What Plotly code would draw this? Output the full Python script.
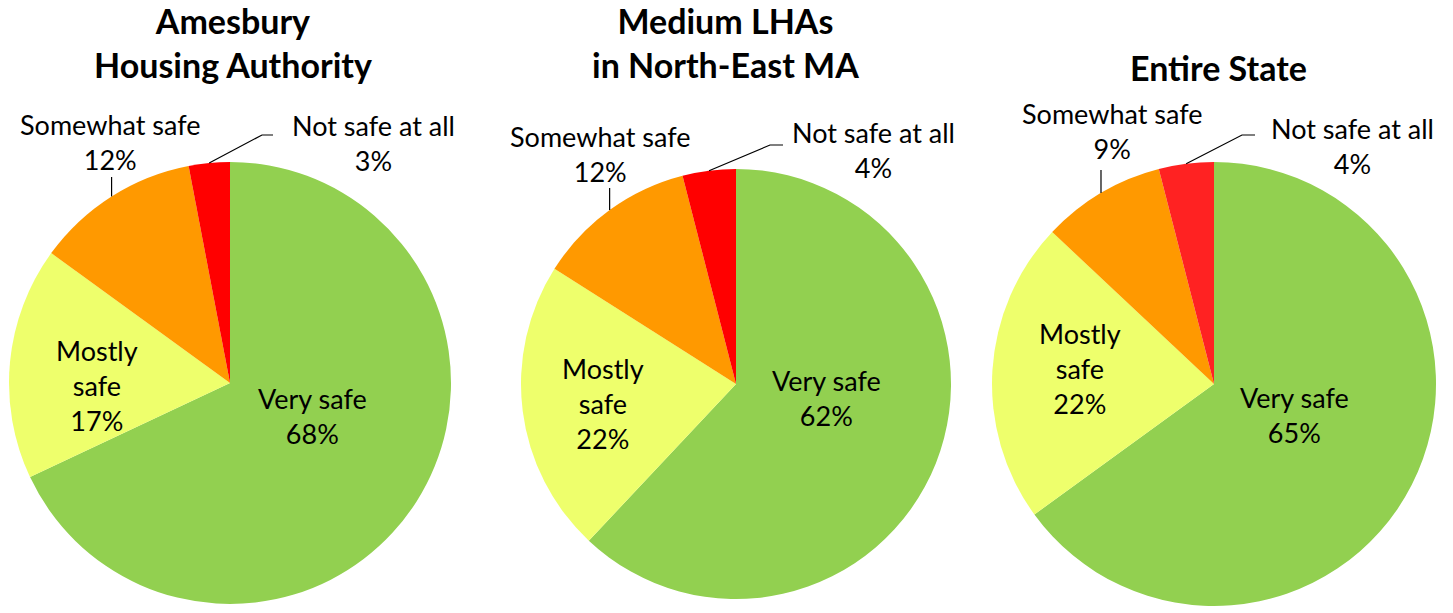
import math
import plotly.graph_objects as go

# ---------------- data ----------------
categories = ["Very safe", "Mostly safe", "Somewhat safe", "Not safe at all"]
titles = ["Amesbury<br>Housing Authority", "Medium LHAs<br>in North-East MA", "Entire State"]
amesbury = [68, 17, 12, 3]
medium_lhas_ne = [62, 22, 12, 4]
entire_state = [65, 22, 9, 4]
series = [amesbury, medium_lhas_ne, entire_state]

# ---------------- layout / style ----------------
W, H = 1453, 613
colors = [
    ["#92D050", "#EEFF6C", "#FF9900", "#FF0000"],
    ["#92D050", "#EEFF6C", "#FF9900", "#FF0000"],
    ["#92D050", "#EEFF6C", "#FF9900", "#FF2222"],
]
centers = [(230, 383), (736, 384), (1214, 384)]   # pixel centres of pies
radii = [221, 215, 222]
title_pos = [(233, 43), (725, 43), (1218, 67)]
# label block centres (pixels) per pie, per category
label_pos = [
    [(312, 416), (97, 385), (110, 142), (373, 143)],
    [(826, 398), (603, 403), (600, 154), (873, 150)],
    [(1294, 415), (1080, 368), (1112, 131), (1352, 146)],
]
# leader-line geometry: vertical end y offset (orange), bend & end offsets (red)
orange_end_dy = [-206, -196, -214]
red_bend = [((32, -248), (43, -248)), ((34, -239), (47, -239)), ((28, -249), (41, -249))]

FONT = "Lato"
LABEL_SIZE = 27
TITLE_SIZE = 34


def px(x):
    return x / W


def py(y):
    return 1 - y / H


fig = go.Figure()
annotations = []
shapes = []

for i, vals in enumerate(series):
    cx, cy = centers[i]
    r = radii[i]
    fig.add_trace(go.Pie(
        labels=categories,
        values=vals,
        sort=False,
        direction="clockwise",
        rotation=0,
        marker=dict(colors=colors[i], line=dict(width=0)),
        textinfo="none",
        hoverinfo="label+percent",
        showlegend=False,
        domain=dict(x=[px(cx - r), px(cx + r)], y=[py(cy + r), py(cy - r)]),
    ))

    # title
    tx, ty = title_pos[i]
    annotations.append(dict(
        x=px(tx), y=py(ty), xref="paper", yref="paper", showarrow=False,
        text="<b>" + titles[i] + "</b>", xanchor="center", yanchor="middle",
        font=dict(family=FONT, size=TITLE_SIZE, color="black"),
    ))

    total = sum(vals)
    cum = 0
    for j, (cat, v) in enumerate(zip(categories, vals)):
        mid = (cum + v / 2) / total * 2 * math.pi
        cum += v
        name = cat.replace(" ", "<br>") if cat == "Mostly safe" else cat
        text = f"{name}<br>{round(v / total * 100)}%"
        lx, ly = label_pos[i][j]
        annotations.append(dict(
            x=px(lx), y=py(ly), xref="paper", yref="paper", showarrow=False,
            text=text, xanchor="center", yanchor="middle", align="center",
            font=dict(family=FONT, size=LABEL_SIZE, color="black"),
        ))
        # leader lines for small outside-labelled slices
        sx = cx + r * math.sin(mid)
        sy = cy - r * math.cos(mid)
        if j == 2:
            ex, ey = sx, cy + orange_end_dy[i]
            shapes.append(dict(type="line", xref="paper", yref="paper",
                               x0=px(sx), y0=py(sy), x1=px(ex), y1=py(ey),
                               line=dict(color="black", width=1.2)))
        if j == 3:
            (bx, by), (ex, ey) = red_bend[i]
            path = (f"M {px(sx)},{py(sy)} L {px(cx + bx)},{py(cy + by)} "
                    f"L {px(cx + ex)},{py(cy + ey)}")
            shapes.append(dict(type="path", xref="paper", yref="paper", path=path,
                               line=dict(color="black", width=1.2)))

fig.update_layout(
    width=W, height=H,
    margin=dict(l=0, r=0, t=0, b=0),
    paper_bgcolor="white", plot_bgcolor="white",
    annotations=annotations, shapes=shapes,
    font=dict(family=FONT),
)

fig.write_html("out.html", config={"displayModeBar": False},
               post_script="document.body.style.margin='0';")
